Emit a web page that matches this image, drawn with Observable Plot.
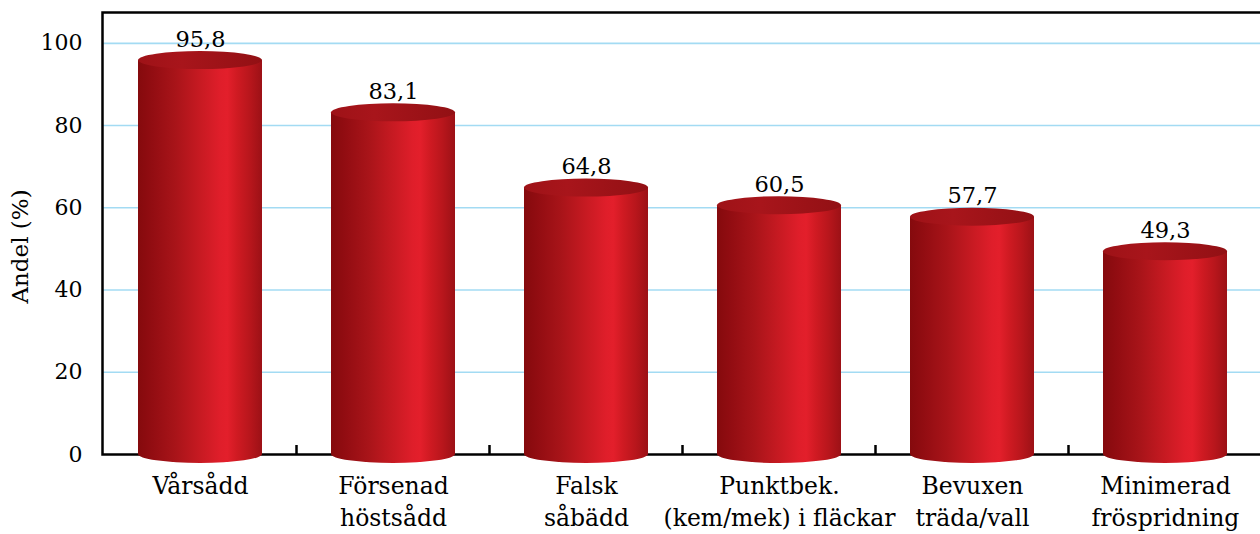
<!DOCTYPE html>
<html><head><meta charset="utf-8">
<script src="https://cdn.jsdelivr.net/npm/d3@7"></script>
<script src="https://cdn.jsdelivr.net/npm/@observablehq/plot@0.6"></script>
<style>
body{margin:0;overflow:hidden;background:#fff}
svg{font-family:"DejaVu Serif",serif}
</style>
</head><body><div id="chart"></div>
<script>
const categories = ["Vårsådd","Försenad\nhöstsådd","Falsk\nsåbädd","Punktbek.\n(kem/mek) i fläckar","Bevuxen\nträda/vall","Minimerad\nfröspridning"];
const values = [95.8, 83.1, 64.8, 60.5, 57.7, 49.3];
const valueLabels = ["95,8","83,1","64,8","60,5","57,7","49,3"];
const yTicks = [0, 20, 40, 60, 80, 100];
const yLabel = "Andel (%)";

(function () {
const data = categories.map((c, i) => ({category: c, value: values[i], label: valueLabels[i]}));

const chart = Plot.plot({
  width: 1260, height: 534,
  marginLeft: 102, marginRight: -2, marginTop: 12, marginBottom: 80,
  style: {fontFamily: "'DejaVu Serif', serif", fontSize: "22px", color: "#000", background: "#fff", overflow: "visible"},
  x: {domain: categories, paddingInner: 0.36, paddingOuter: 0.18, label: null},
  y: {domain: [0, 107.5], label: null},
  marks: [
    Plot.gridY(yTicks.filter(d => d > 0), {stroke: "#a3dbf3", strokeOpacity: 1, strokeWidth: 1.6}),
    Plot.axisY(yTicks, {tickSize: 0, tickPadding: 20, fontSize: 22, label: null}),
    Plot.text([yLabel], {frameAnchor: "left", textAnchor: "middle", dx: -82, dy: 13, rotate: -90, fontSize: 23}),
    Plot.axisX({tickSize: 0, tickPadding: 17, fontSize: 23.5, lineHeight: 1.36, label: null}),
    Plot.frame({stroke: "#000", strokeWidth: 2.5}),
    Plot.barY(data, {x: "category", y: "value", fill: "url(#cylBody)"}),
    Plot.text(data, {x: "category", y: "value", text: "label", dy: -21, fontSize: 22.5})
  ]
});
document.getElementById("chart").appendChild(chart);

const svgEl = chart.tagName.toLowerCase() === "svg" ? chart : chart.querySelector("svg");
const svg = d3.select(svgEl);
const defs = svg.insert("defs", ":first-child");
const bodyGrad = defs.append("linearGradient").attr("id", "cylBody").attr("x1", 0).attr("x2", 1).attr("y1", 0).attr("y2", 0);
[[0, "#850a0d"], [0.12, "#930d12"], [0.3, "#a81419"], [0.5, "#c71a22"], [0.66, "#df1e2a"], [0.72, "#e31f2b"], [0.8, "#cf1a22"], [0.9, "#b8161c"], [1, "#9c1116"]]
  .forEach(([o, c]) => bodyGrad.append("stop").attr("offset", o).attr("stop-color", c));
const topGrad = defs.append("linearGradient").attr("id", "cylTop").attr("x1", 0).attr("x2", 1).attr("y1", 0).attr("y2", 0);
[[0, "#9e1217"], [0.35, "#a8151b"], [1, "#921014"]]
  .forEach(([o, c]) => topGrad.append("stop").attr("offset", o).attr("stop-color", c));

const rects = Array.from(svgEl.querySelectorAll("g[aria-label='bar'] rect"));
const ry = 9;
const ns = "http://www.w3.org/2000/svg";
const boxes = rects.map(r => {
  const x = +r.getAttribute("x"), y = +r.getAttribute("y"), w = +r.getAttribute("width"), h = +r.getAttribute("height");
  r.setAttribute("fill", "url(#cylBody)");
  const bottom = document.createElementNS(ns, "ellipse");
  bottom.setAttribute("cx", x + w / 2); bottom.setAttribute("cy", y + h);
  bottom.setAttribute("rx", w / 2); bottom.setAttribute("ry", ry);
  bottom.setAttribute("fill", "url(#cylBody)");
  r.parentNode.insertBefore(bottom, r);
  const topE = document.createElementNS(ns, "ellipse");
  topE.setAttribute("cx", x + w / 2); topE.setAttribute("cy", y);
  topE.setAttribute("rx", w / 2); topE.setAttribute("ry", ry);
  topE.setAttribute("fill", "url(#cylTop)");
  r.parentNode.appendChild(topE);
  return {x, y, w, h};
});
const gT = svg.append("g").attr("aria-label", "x-boundary-ticks");
for (let i = 0; i < boxes.length - 1; i++) {
  const bx = (boxes[i].x + boxes[i].w + boxes[i + 1].x) / 2;
  const by = boxes[i].y + boxes[i].h;
  gT.append("line").attr("x1", bx).attr("x2", bx).attr("y1", by - 9).attr("y2", by)
    .attr("stroke", "#000").attr("stroke-width", 2.5);
}
})();
</script>
</body></html>
